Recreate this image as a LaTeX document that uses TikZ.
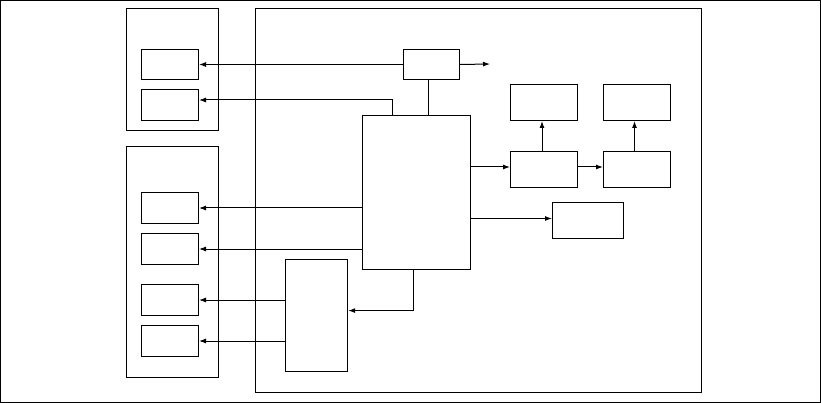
\documentclass[tikz,border=0pt]{standalone}
\usepackage{tikz}
\usetikzlibrary{arrows.meta,positioning,calc}

\begin{document}
\begin{tikzpicture}[x=1pt,y=-1pt,line width=1pt,
    box/.style={draw,inner sep=0pt,anchor=north west},
    grp/.style={box,line width=1.3pt},
    arr/.style={-{Latex[length=7pt,width=5pt]}}]
  \useasboundingbox (0,0) rectangle (821,403);
  \draw (0.5,0.5) rectangle (820.3,402.3);
  % left side units
  \node[grp,minimum width=92pt,minimum height=122pt] (grpA) at (126,8) {};
  \node[box,minimum width=57pt,minimum height=30pt] (a1) at (141,49) {};
  \node[box,minimum width=57pt,minimum height=31pt] (a2) at (141,89) {};
  \node[grp,minimum width=92pt,minimum height=231pt] (grpB) at (126,146) {};
  \node[box,minimum width=57pt,minimum height=31pt] (b1) at (141,192) {};
  \node[box,minimum width=57pt,minimum height=31pt] (b2) at (141,233) {};
  \node[box,minimum width=57pt,minimum height=31pt] (b3) at (141,284) {};
  \node[box,minimum width=57pt,minimum height=31pt] (b4) at (141,325) {};
  % main unit
  \node[box,minimum width=446pt,minimum height=384pt] (cont) at (255,8) {};
  \node[box,minimum width=56pt,minimum height=30pt] (top) at (403,49) {};
  \node[box,minimum width=108pt,minimum height=154pt,line width=1.3pt] (main) at (361.5,115) {};
  \node[box,minimum width=62pt,minimum height=112pt,line width=1.2pt] (bot) at (285,259) {};
  \node[box,minimum width=67pt,minimum height=36pt] (d) at (510,84) {};
  \node[box,minimum width=67pt,minimum height=36pt] (e) at (603,84) {};
  \node[box,minimum width=67pt,minimum height=36pt] (f) at (510,151.5) {};
  \node[box,minimum width=67pt,minimum height=36pt] (g) at (603,151.5) {};
  \node[box,minimum width=71pt,minimum height=36pt] (h) at (552,202) {};
  \coordinate (out) at (490,64);
  % connections
  \draw[arr] (top.west) -- (a1.east);
  \draw[arr] (top.east) -- (out);
  \draw ([xshift=-3pt]top.south) -- ([xshift=-3pt]top.south |- main.north);
  \draw[arr] ([xshift=30.5pt]main.north west) |- ([yshift=5pt]a2.east);
  \draw[arr] (b1.east -| main.west) -- (b1.east);
  \draw[arr] (b2.east -| main.west) -- (b2.east);
  \draw[arr] (b3.east -| bot.west) -- (b3.east);
  \draw[arr] (b4.east -| bot.west) -- (b4.east);
  \draw[arr] ([xshift=-2.5pt]main.south) |- ([yshift=5pt]bot.east);
  \draw[arr] ([yshift=3pt]f.west -| main.east) -- ([yshift=3pt]f.west);
  \draw[arr] ([yshift=3pt]f.east) -- ([yshift=3pt]g.west);
  \draw[arr] ([yshift=2pt]h.west -| main.east) -- ([yshift=2pt]h.west);
  \draw[arr] ([xshift=-2pt]f.north) -- ([xshift=-2pt]d.south);
  \draw[arr] ([xshift=-2.5pt]g.north) -- ([xshift=-2.5pt]e.south);
\end{tikzpicture}
\end{document}
